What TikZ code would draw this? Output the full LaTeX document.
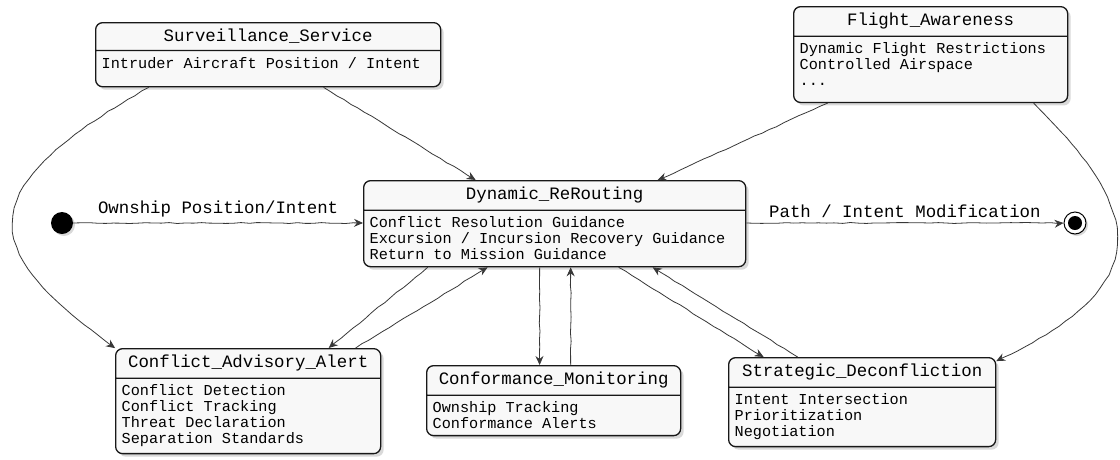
\documentclass[tikz,border=0pt]{standalone}
\usepackage{fontspec}
\newfontfamily\umlfont{Liberation Mono}
\usetikzlibrary{shapes.multipart,shadows,decorations.pathmorphing,arrows.meta,positioning}
\definecolor{boxfill}{HTML}{F8F8F8}
\definecolor{boxline}{HTML}{181818}
\definecolor{arrowline}{HTML}{383838}
\newcommand\titlesize{\umlfont\fontsize{17.4}{20}\selectfont\spaceskip=0pt\xspaceskip=0pt}
\newcommand\bodysize{\umlfont\fontsize{15.2}{16}\selectfont\spaceskip=0pt\xspaceskip=0pt}
\setlength\parindent{0pt}

\begin{document}
\begin{tikzpicture}[x=1pt, y=-1pt,
            state/.style = {rectangle split, rectangle split parts=2, draw=boxline, fill=boxfill,
                line width=1.3pt, rounded corners=7pt, align=left, inner xsep=6pt, inner ysep=6pt,
                anchor=north west, drop shadow={opacity=0.3, shadow xshift=3pt, shadow yshift=-3pt}},
            startstate/.style = {circle, fill=black, minimum size=22pt, inner sep=0pt,
                drop shadow={opacity=0.3, shadow xshift=2pt, shadow yshift=-2pt}},
            endstate/.style = {circle, draw=black, fill=white, line width=1pt, minimum size=22pt, inner sep=0pt,
                path picture={\fill[black] (path picture bounding box.center) circle (7pt);},
                drop shadow={opacity=0.3, shadow xshift=2pt, shadow yshift=-2pt}},
            trans/.style = {draw=arrowline, line width=0.8pt, -{Stealth[length=9pt, width=8pt, inset=3pt]},
                decorate, decoration={random steps, segment length=8pt, amplitude=0.5pt}},
            lbl/.style = {font=\titlesize, text=black}]
            \pgfmathsetseed{3}
            \useasboundingbox (0,0) rectangle (1120,459);
            \node[state, text width=333pt] (surv) at (95,22)
                {\titlesize\centering Surveillance\_Service\par
                \nodepart{two}\bodysize Intruder Aircraft Position / Intent\rule[-12pt]{0pt}{1pt}\par};
            \node[state, text width=262pt] (flight) at (793,6)
                {\titlesize\centering Flight\_Awareness\par
                \nodepart{two}\bodysize Dynamic Flight Restrictions\\Controlled Airspace\\...\rule[-10pt]{0pt}{1pt}\par};
            \node[state, text width=370pt] (dyn) at (363,180)
                {\titlesize\centering Dynamic\_ReRouting\par
                \nodepart{two}\bodysize Conflict Resolution Guidance\\Excursion / Incursion Recovery Guidance\\Return to Mission Guidance\par};
            \node[state, text width=253pt] (conflict) at (115,348)
                {\titlesize\centering Conflict\_Advisory\_Alert\par
                \nodepart{two}\bodysize Conflict Detection\\Conflict Tracking\\Threat Declaration\\Separation Standards\par};
            \node[state, text width=242pt] (conf) at (426,365)
                {\titlesize\centering Conformance\_Monitoring\par
                \nodepart{two}\bodysize Ownship Tracking\\Conformance Alerts\par};
            \node[state, text width=255pt] (strat) at (728,357)
                {\titlesize\centering Strategic\_Deconfliction\par
                \nodepart{two}\bodysize Intent Intersection\\Prioritization\\Negotiation\par};
            \node[startstate] (init) at (62,223) {};
            \node[endstate] (final) at (1075,223) {};

            \draw[trans] (init) -- (init -| dyn.west) node[lbl, midway, above=2pt] {Ownship Position/Intent};
            \draw[trans] (dyn.east |- final) -- (final) node[lbl, midway, above=2pt] {Path / Intent Modification};
            \draw[trans] ([xshift=55.5pt]surv.south) -- ([xshift=-79pt]dyn.north);
            \draw[trans] ([xshift=-103pt]flight.south) -- ([xshift=103pt]dyn.north);
            \draw[trans] ([xshift=-119.5pt]surv.south) .. controls +(-183,104) and +(-135,-98) .. (conflict.north west);
            \draw[trans] ([xshift=103pt]flight.south) .. controls +(100,100) and +(173,-81) .. ([yshift=-4pt]strat.north east);
            \draw[trans] ([xshift=-127pt]dyn.south) -- ([xshift=80.5pt]conflict.north);
            \draw[trans] ([xshift=107.5pt]conflict.north) -- ([xshift=-67pt]dyn.south);
            \draw[trans] ([xshift=-15pt]dyn.south) -- ([xshift=-14pt]conf.north);
            \draw[trans] ([xshift=17pt]conf.north) -- ([xshift=16pt]dyn.south);
            \draw[trans] ([xshift=64pt]dyn.south) -- ([xshift=-98.5pt]strat.north);
            \draw[trans] ([xshift=-64.5pt]strat.north) -- ([xshift=98pt]dyn.south);
\end{tikzpicture}
\end{document}
